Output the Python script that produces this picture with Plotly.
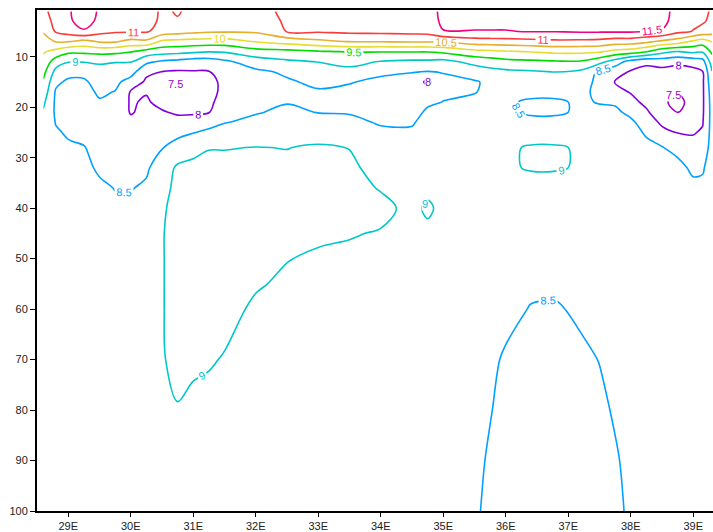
import plotly.graph_objects as go

# Longitudes (deg E) of the data columns
lon = [28.6, 28.8, 29.0, 29.25, 29.5, 29.75, 30.0, 30.25, 30.5, 30.75, 31.0, 31.25, 31.5,
       32.0, 32.5, 33.0, 33.5, 34.0, 34.5, 34.75, 35.0, 35.5, 35.75, 36.0, 36.4, 36.8,
       37.2, 37.5, 37.75, 38.0, 38.25, 38.5, 38.75, 39.0, 39.15, 39.3]

# Depths (m) of the data rows
depth = [1, 3, 5, 7, 9, 11, 13, 15, 17, 19, 21, 23, 25, 28, 32, 36, 40, 45, 50, 55, 60, 70, 80, 90, 100]

# Temperature profiles, one list per longitude (values at the depths above)
temp_profiles = [
    [10.85, 10.7, 10.53, 10.33, 10.05, 9.85, 9.65, 9.45, 9.3, 9.1, 8.95, 8.9, 8.85, 8.8, 8.8, 8.78, 8.78, 8.78, 8.78, 8.78, 8.78, 8.78, 8.78, 8.78, 8.78],
    [11.25, 11.18, 11.05, 10.52, 9.85, 9.25, 8.85, 8.6, 8.45, 8.42, 8.43, 8.48, 8.55, 8.63, 8.7, 8.72, 8.74, 8.76, 8.76, 8.76, 8.76, 8.76, 8.76, 8.76, 8.76],
    [11.45, 11.42, 11.2, 10.52, 9.6, 9.02, 8.65, 8.42, 8.3, 8.3, 8.33, 8.38, 8.45, 8.56, 8.66, 8.7, 8.72, 8.75, 8.76, 8.76, 8.76, 8.76, 8.76, 8.76, 8.76],
    [11.72, 11.68, 11.45, 10.35, 9.6, 9.02, 8.65, 8.42, 8.32, 8.3, 8.3, 8.33, 8.38, 8.52, 8.58, 8.64, 8.7, 8.74, 8.76, 8.76, 8.76, 8.76, 8.76, 8.76, 8.76],
    [11.45, 11.4, 11.15, 10.55, 9.65, 9.05, 8.85, 8.7, 8.58, 8.45, 8.35, 8.3, 8.3, 8.35, 8.45, 8.56, 8.62, 8.66, 8.7, 8.72, 8.74, 8.76, 8.76, 8.76, 8.76],
    [11.3, 11.25, 11.05, 10.55, 9.62, 9.02, 8.8, 8.62, 8.48, 8.38, 8.3, 8.25, 8.22, 8.25, 8.35, 8.49, 8.56, 8.62, 8.66, 8.7, 8.72, 8.75, 8.76, 8.76, 8.76],
    [11.3, 11.25, 11.05, 10.35, 9.52, 9.02, 8.7, 8.3, 7.96, 7.95, 7.97, 8.1, 8.2, 8.27, 8.38, 8.48, 8.58, 8.64, 8.68, 8.72, 8.74, 8.76, 8.76, 8.76, 8.76],
    [11.3, 11.25, 11.05, 10.4, 9.3, 8.6, 8.1, 7.92, 7.97, 8.06, 8.1, 8.16, 8.22, 8.3, 8.44, 8.56, 8.62, 8.66, 8.7, 8.72, 8.74, 8.76, 8.76, 8.76, 8.76],
    [10.9, 10.87, 10.8, 9.9, 9.2, 8.42, 7.99, 7.8, 7.75, 7.85, 8.05, 8.2, 8.32, 8.48, 8.72, 8.85, 8.95, 8.98, 8.98, 8.98, 8.98, 8.97, 8.9, 8.85, 8.82],
    [11.05, 10.95, 10.7, 9.85, 9.15, 8.35, 7.95, 7.47, 7.6, 7.75, 7.92, 8.2, 8.4, 8.65, 9.08, 9.12, 9.12, 9.12, 9.12, 9.12, 9.12, 9.1, 8.98, 8.88, 8.82],
    [10.85, 10.78, 10.62, 9.8, 9.08, 8.25, 7.97, 7.7, 7.72, 7.8, 7.93, 8.22, 8.48, 8.85, 9.12, 9.15, 9.15, 9.15, 9.15, 9.15, 9.14, 9.06, 8.92, 8.85, 8.8],
    [10.8, 10.72, 10.56, 9.78, 9.02, 8.25, 7.98, 7.85, 7.85, 7.9, 7.98, 8.32, 8.6, 8.98, 9.13, 9.15, 9.15, 9.15, 9.15, 9.15, 9.13, 9.03, 8.9, 8.84, 8.8],
    [10.75, 10.68, 10.55, 9.78, 9.05, 8.4, 8.2, 8.12, 8.12, 8.2, 8.32, 8.48, 8.68, 8.98, 9.13, 9.15, 9.15, 9.15, 9.15, 9.13, 9.1, 8.98, 8.88, 8.83, 8.8],
    [10.75, 10.68, 10.57, 10.02, 9.3, 8.75, 8.4, 8.3, 8.3, 8.38, 8.47, 8.6, 8.75, 9.01, 9.12, 9.14, 9.14, 9.12, 9.08, 9.03, 8.95, 8.85, 8.8, 8.8, 8.8],
    [11.15, 11.08, 11.02, 10.2, 9.35, 8.92, 8.58, 8.44, 8.42, 8.48, 8.58, 8.68, 8.8, 8.99, 9.1, 9.12, 9.12, 9.08, 9.01, 8.95, 8.9, 8.84, 8.8, 8.8, 8.8],
    [11.2, 11.15, 11.05, 10.38, 9.45, 9.01, 8.8, 8.6, 8.45, 8.43, 8.49, 8.62, 8.82, 9.05, 9.1, 9.12, 9.12, 9.05, 8.96, 8.9, 8.86, 8.82, 8.8, 8.8, 8.8],
    [11.25, 11.2, 11.1, 10.52, 9.52, 9.15, 8.85, 8.52, 8.42, 8.4, 8.47, 8.6, 8.78, 8.99, 9.08, 9.1, 9.1, 9.02, 8.94, 8.88, 8.85, 8.82, 8.8, 8.8, 8.8],
    [11.25, 11.2, 11.12, 10.52, 9.52, 8.97, 8.57, 8.42, 8.38, 8.36, 8.38, 8.46, 8.58, 8.72, 8.85, 8.98, 9.08, 8.98, 8.9, 8.86, 8.84, 8.8, 8.8, 8.8, 8.8],
    [11.28, 11.22, 11.15, 10.55, 9.52, 8.9, 8.52, 8.3, 8.25, 8.25, 8.32, 8.45, 8.58, 8.72, 8.82, 8.88, 8.92, 8.9, 8.86, 8.84, 8.82, 8.8, 8.8, 8.8, 8.8],
    [11.3, 11.25, 11.17, 10.55, 9.52, 8.9, 8.48, 7.9, 8.2, 8.42, 8.58, 8.68, 8.74, 8.8, 8.86, 8.93, 9.05, 8.93, 8.86, 8.84, 8.82, 8.8, 8.8, 8.8, 8.8],
    [11.62, 11.6, 11.48, 10.55, 9.6, 8.85, 8.52, 8.4, 8.42, 8.51, 8.6, 8.68, 8.74, 8.8, 8.84, 8.88, 8.92, 8.88, 8.85, 8.83, 8.82, 8.8, 8.8, 8.8, 8.8],
    [11.65, 11.62, 11.48, 10.75, 9.85, 9.15, 8.72, 8.46, 8.48, 8.6, 8.66, 8.7, 8.74, 8.78, 8.8, 8.82, 8.82, 8.8, 8.78, 8.76, 8.74, 8.7, 8.65, 8.6, 8.55],
    [11.65, 11.62, 11.48, 10.78, 9.9, 9.25, 8.85, 8.58, 8.6, 8.64, 8.68, 8.72, 8.76, 8.8, 8.82, 8.82, 8.8, 8.78, 8.74, 8.7, 8.66, 8.58, 8.52, 8.45, 8.42],
    [11.65, 11.62, 11.48, 10.8, 9.95, 9.35, 8.9, 8.7, 8.6, 8.55, 8.55, 8.65, 8.8, 8.95, 8.95, 8.85, 8.8, 8.75, 8.72, 8.68, 8.62, 8.45, 8.38, 8.36, 8.35],
    [11.68, 11.65, 11.52, 10.85, 10.02, 9.4, 8.95, 8.72, 8.6, 8.45, 8.45, 8.6, 8.85, 9.03, 9.03, 8.85, 8.78, 8.72, 8.66, 8.58, 8.48, 8.35, 8.3, 8.3, 8.3],
    [11.68, 11.65, 11.52, 10.9, 10.1, 9.45, 9.01, 8.75, 8.6, 8.45, 8.45, 8.6, 8.85, 9.03, 9.03, 8.85, 8.78, 8.72, 8.66, 8.58, 8.46, 8.32, 8.28, 8.28, 8.3],
    [11.7, 11.66, 11.55, 10.88, 10.1, 9.45, 8.9, 8.7, 8.6, 8.55, 8.55, 8.62, 8.8, 8.97, 8.97, 8.85, 8.8, 8.75, 8.7, 8.64, 8.57, 8.42, 8.35, 8.32, 8.32],
    [11.7, 11.66, 11.55, 10.85, 10.05, 9.15, 8.4, 8.38, 8.4, 8.48, 8.58, 8.65, 8.72, 8.78, 8.8, 8.8, 8.78, 8.76, 8.74, 8.7, 8.65, 8.51, 8.42, 8.38, 8.38],
    [11.7, 11.66, 11.55, 10.75, 9.85, 8.75, 8.2, 7.97, 8.15, 8.45, 8.58, 8.65, 8.7, 8.76, 8.8, 8.8, 8.8, 8.78, 8.76, 8.74, 8.72, 8.62, 8.54, 8.46, 8.42],
    [11.72, 11.68, 11.55, 10.75, 9.75, 8.3, 7.95, 7.9, 7.97, 8.15, 8.4, 8.58, 8.65, 8.72, 8.78, 8.8, 8.8, 8.8, 8.8, 8.8, 8.78, 8.72, 8.66, 8.6, 8.56],
    [11.75, 11.7, 11.48, 10.6, 9.52, 8.1, 7.85, 7.75, 7.75, 7.88, 8.08, 8.3, 8.45, 8.6, 8.72, 8.78, 8.8, 8.8, 8.8, 8.8, 8.8, 8.78, 8.75, 8.72, 8.7],
    [11.7, 11.66, 11.45, 10.4, 9.15, 8.2, 7.85, 7.7, 7.6, 7.55, 7.65, 7.9, 8.15, 8.52, 8.68, 8.76, 8.8, 8.8, 8.8, 8.8, 8.8, 8.8, 8.78, 8.76, 8.75],
    [11.3, 11.25, 11.12, 10.25, 8.98, 8.1, 7.82, 7.65, 7.52, 7.42, 7.48, 7.75, 7.98, 8.38, 8.62, 8.72, 8.78, 8.8, 8.8, 8.8, 8.8, 8.8, 8.8, 8.8, 8.78],
    [11.15, 11.1, 10.98, 9.9, 9.1, 8.2, 7.85, 7.75, 7.65, 7.6, 7.65, 7.8, 7.97, 8.15, 8.42, 8.6, 8.7, 8.75, 8.78, 8.78, 8.78, 8.78, 8.78, 8.78, 8.78],
    [11.1, 11.05, 10.85, 9.75, 9.05, 8.3, 7.98, 7.92, 7.92, 7.92, 7.93, 7.97, 8.05, 8.2, 8.45, 8.6, 8.7, 8.75, 8.78, 8.78, 8.78, 8.78, 8.78, 8.78, 8.78],
    [10.95, 10.9, 10.7, 10.02, 9.6, 9.25, 8.98, 8.85, 8.75, 8.7, 8.68, 8.68, 8.68, 8.7, 8.72, 8.75, 8.78, 8.8, 8.8, 8.8, 8.8, 8.8, 8.8, 8.8, 8.8],
]

# Contour levels and their (GrADS rainbow) colours
levels = [7.5, 8.0, 8.5, 9.0, 9.5, 10.0, 10.5, 11.0, 11.5]
level_colors = ["#a000c8", "#8200dc", "#00a0ff", "#00c8c8", "#00dc00",
                "#e6dc32", "#e6af2d", "#fa3c3c", "#f00082"]

# Labels of the tiny closed contours (value, lon, depth)
small_label_values = [7.5, 8.0, 7.5, 9.0]
small_label_lon = [30.72, 34.75, 38.68, 34.7]
small_label_depth = [15.4, 15.1, 17.6, 39.2]

# Axis ticks
x_ticks = [29, 30, 31, 32, 33, 34, 35, 36, 37, 38, 39]
x_labels = [f"{v}E" for v in x_ticks]
y_ticks = [10, 20, 30, 40, 50, 60, 70, 80, 90, 100]

# z[row=depth][col=lon]
z = [list(r) for r in zip(*temp_profiles)]

lo, hi = levels[0], levels[-1]
colorscale = [[(lv - lo) / (hi - lo), c] for lv, c in zip(levels, level_colors)]
label_family = "Liberation Sans, Arial, sans-serif"

fig = go.Figure(go.Contour(
    x=lon, y=depth, z=z,
    zmin=lo, zmax=hi,
    colorscale=colorscale, showscale=False,
    contours=dict(start=lo, end=hi, size=0.5, coloring="lines",
                  showlabels=True,
                  labelfont=dict(family=label_family, size=11)),
    line=dict(width=1.6, smoothing=1.0),
    hoverinfo="skip",
))

color_of = dict(zip(levels, level_colors))
for v, x, y in zip(small_label_values, small_label_lon, small_label_depth):
    fig.add_annotation(x=x, y=y, xref="x", yref="y", text=f"{v:g}", showarrow=False,
                       font=dict(family=label_family, size=11, color=color_of[v]),
                       bgcolor="white", borderpad=0)

font = dict(family="Liberation Sans, Arial, sans-serif", size=11, color="#222222")
fig.update_layout(
    width=713, height=532,
    margin=dict(l=37, r=0, t=10, b=18),
    paper_bgcolor="white", plot_bgcolor="white",
    showlegend=False,
    font=font,
)
fig.update_xaxes(range=[28.5, 39.316], tickvals=x_ticks, ticktext=x_labels,
                 ticks="outside", ticklen=4, tickwidth=1, tickcolor="black",
                 showline=True, linecolor="black", linewidth=2, mirror=True,
                 showgrid=False, zeroline=False, tickfont=font)
fig.update_yaxes(range=[100, 0.75], tickvals=y_ticks,
                 ticks="outside", ticklen=5, tickwidth=1, tickcolor="black",
                 showline=True, linecolor="black", linewidth=2, mirror=False,
                 showgrid=False, zeroline=False, tickfont=font)

fig.write_html("out.html")
